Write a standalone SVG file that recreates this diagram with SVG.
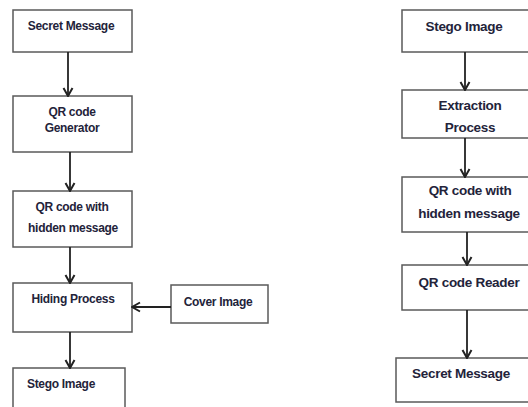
<svg xmlns="http://www.w3.org/2000/svg" width="528" height="407" viewBox="0 0 528 407">
  <style>
    .box { fill: #ffffff; stroke: #5a5a5a; stroke-width: 1.5; }
    .lbl { font-family: "Liberation Sans", Arial, sans-serif; font-weight: bold; fill: #23233a; text-anchor: middle; dominant-baseline: central; letter-spacing: -0.3px; }
    .sm { font-size: 12px; }
    .lg { font-size: 13.5px; }
    .wire { fill: none; stroke: #222222; stroke-width: 1.8; marker-end: url(#head); }
  </style>
  <defs>
    <marker id="head" viewBox="0 0 12 12" refX="11" refY="6" markerWidth="12" markerHeight="12" markerUnits="userSpaceOnUse" orient="auto">
      <polyline points="3,1.5 11,6 3,10.5" fill="none" stroke="#222222" stroke-width="2"/>
    </marker>
  </defs>
  <rect width="528" height="407" fill="#ffffff"/>

  <!-- embedding flow -->
  <g id="secret-message-in">
    <rect class="box" x="13" y="10" width="119" height="42"/>
    <text class="lbl sm" x="71" y="26">Secret Message</text>
  </g>
  <g id="qr-generator">
    <rect class="box" x="13" y="96" width="119" height="56"/>
    <text class="lbl sm" x="72" y="112">QR code</text>
    <text class="lbl sm" x="72" y="128">Generator</text>
  </g>
  <g id="qr-hidden-in">
    <rect class="box" x="13" y="191" width="119" height="56"/>
    <text class="lbl sm" x="72" y="207">QR code with</text>
    <text class="lbl sm" x="73" y="228">hidden message</text>
  </g>
  <g id="hiding-process">
    <rect class="box" x="13" y="283" width="119" height="49"/>
    <text class="lbl sm" x="73" y="299">Hiding Process</text>
  </g>
  <g id="cover-image">
    <rect class="box" x="171" y="285" width="97" height="38"/>
    <text class="lbl sm" x="218" y="302">Cover Image</text>
  </g>
  <g id="stego-image-out">
    <rect class="box" x="13" y="368" width="112" height="50"/>
    <text class="lbl sm" x="61" y="384">Stego Image</text>
  </g>

  <!-- extraction flow -->
  <g id="stego-image-in">
    <rect class="box" x="402" y="10" width="130" height="42"/>
    <text class="lbl lg" x="464" y="26">Stego Image</text>
  </g>
  <g id="extraction-process">
    <rect class="box" x="402" y="90" width="130" height="48"/>
    <text class="lbl lg" x="470" y="105">Extraction</text>
    <text class="lbl lg" x="470" y="127">Process</text>
  </g>
  <g id="qr-hidden-out">
    <rect class="box" x="402" y="177" width="130" height="55"/>
    <text class="lbl lg" x="470" y="190">QR code with</text>
    <text class="lbl lg" x="469" y="213">hidden message</text>
  </g>
  <g id="qr-reader">
    <rect class="box" x="402" y="265" width="130" height="45"/>
    <text class="lbl lg" x="469" y="282">QR code Reader</text>
  </g>
  <g id="secret-message-out">
    <rect class="box" x="396" y="358" width="136" height="44"/>
    <text class="lbl lg" x="461" y="373">Secret Message</text>
  </g>

  <g id="connectors">
    <line class="wire" x1="68" y1="52" x2="68" y2="96"/>
    <line class="wire" x1="70" y1="152" x2="70" y2="191"/>
    <line class="wire" x1="70" y1="247" x2="70" y2="283"/>
    <line class="wire" x1="171" y1="307" x2="132" y2="307"/>
    <line class="wire" x1="70" y1="332" x2="70" y2="368"/>
    <line class="wire" x1="465" y1="52" x2="465" y2="90"/>
    <line class="wire" x1="465" y1="138" x2="465" y2="177"/>
    <line class="wire" x1="467" y1="232" x2="467" y2="265"/>
    <line class="wire" x1="467" y1="310" x2="467" y2="358"/>
  </g>
</svg>
